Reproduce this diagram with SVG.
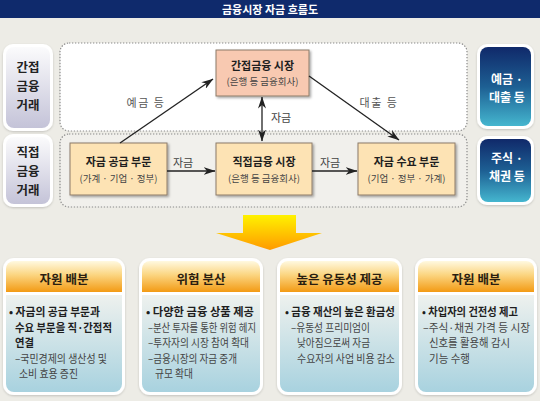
<svg xmlns="http://www.w3.org/2000/svg" width="540" height="401" viewBox="0 0 540 401">
<defs>
<style>
text{font-family:"Noto Sans CJK KR","Noto Sans",sans-serif;}
.title{font-size:11px;font-weight:700;fill:#fff;text-anchor:middle;}
.side{font-size:12.5px;font-weight:700;fill:#222;text-anchor:middle;}
.sideW{font-size:12px;font-weight:700;fill:#fff;text-anchor:middle;}
.nt{font-size:11px;font-weight:700;fill:#1e1e1e;text-anchor:middle;}
.ns{font-size:9.5px;fill:#444;text-anchor:middle;}
.lbl{font-size:11px;fill:#555;text-anchor:middle;letter-spacing:1.5px;}
.lbl2{font-size:11px;fill:#444;text-anchor:middle;}
.ht{font-size:12.5px;font-weight:700;fill:#2a1e10;text-anchor:middle;}
.b{font-size:11px;font-weight:700;fill:#1e1e1e;}
.r{font-size:11px;fill:#444;}
.node{stroke:#8c7b68;stroke-width:1;}
.area{fill:#fff;stroke:#8a8a8a;stroke-width:1.2;stroke-dasharray:1.3 1.7;}
.conn{stroke:#222;stroke-width:1.3;fill:none;}
</style>
<marker id="ah" viewBox="0 0 12 8" refX="11.5" refY="4" markerWidth="12" markerHeight="8" markerUnits="userSpaceOnUse" orient="auto-start-reverse">
<path d="M0,0 L12,4 L0,8 L3.5,4 z" fill="#222"/>
</marker>
<linearGradient id="gLeft" x1="0" y1="0" x2="0" y2="1"><stop offset="0" stop-color="#fbfbfc"/><stop offset="1" stop-color="#c4c3d8"/></linearGradient>
<linearGradient id="gRight" x1="0" y1="0" x2="0" y2="1"><stop offset="0" stop-color="#10296a"/><stop offset="0.5" stop-color="#1d5f93"/><stop offset="1" stop-color="#45b6cf"/></linearGradient>
<linearGradient id="gYel" x1="0" y1="0" x2="0" y2="1"><stop offset="0" stop-color="#fff200"/><stop offset="1" stop-color="#ff9a00"/></linearGradient>
<linearGradient id="gHead" x1="0" y1="0" x2="0" y2="1"><stop offset="0" stop-color="#fff9e0"/><stop offset="0.45" stop-color="#fbd580"/><stop offset="1" stop-color="#f39a14"/></linearGradient>
<linearGradient id="gBody" x1="0" y1="0" x2="0" y2="1"><stop offset="0" stop-color="#eef1ee"/><stop offset="1" stop-color="#a8d2df"/></linearGradient>
<filter id="sh" x="-10%" y="-10%" width="130%" height="130%"><feDropShadow dx="1.5" dy="1.5" stdDeviation="0.8" flood-color="#000" flood-opacity="0.35"/></filter>
<filter id="sh2" x="-10%" y="-10%" width="130%" height="130%"><feDropShadow dx="0" dy="1" stdDeviation="1.2" flood-color="#000" flood-opacity="0.18"/></filter>
</defs>

<rect x="0" y="0" width="540" height="401" fill="#edece6"/>
<g id="titlebar">
<rect x="0" y="0" width="540" height="18" fill="#0f2a6c"/>
<text class="title" x="270" y="13.5">금융시장 자금 흐름도</text>
</g>

<g id="areas">
<rect class="area" x="60" y="43" width="407" height="88" rx="9"/>
<rect class="area" x="60" y="134" width="407" height="73" rx="9" style="fill:#f1f0ec"/>
</g>

<g id="side-indirect">
<rect x="3" y="44" width="50" height="87" rx="10" fill="#fff" filter="url(#sh2)"/>
<rect x="6" y="47" width="44" height="81" rx="8" fill="url(#gLeft)"/>
<text class="side" x="28" y="71.5">간접</text>
<text class="side" x="28" y="90.5">금융</text>
<text class="side" x="28" y="109.5">거래</text>
</g>
<g id="side-direct">
<rect x="3" y="134" width="50" height="73" rx="10" fill="#fff" filter="url(#sh2)"/>
<rect x="6" y="137" width="44" height="67" rx="8" fill="url(#gLeft)"/>
<text class="side" x="28" y="156.5">직접</text>
<text class="side" x="28" y="175.5">금융</text>
<text class="side" x="28" y="194.5">거래</text>
</g>

<g id="side-deposit">
<rect x="477" y="44" width="57" height="85" rx="10" fill="#fff" filter="url(#sh2)"/>
<rect x="480" y="47" width="51" height="79" rx="8" fill="url(#gRight)"/>
<text class="sideW" x="507" y="84">예금 ·</text>
<text class="sideW" x="507" y="102">대출 등</text>
</g>
<g id="side-stock">
<rect x="477" y="136" width="57" height="69" rx="10" fill="#fff" filter="url(#sh2)"/>
<rect x="480" y="139" width="51" height="63" rx="8" fill="url(#gRight)"/>
<text class="sideW" x="507" y="163">주식 ·</text>
<text class="sideW" x="507" y="181">채권 등</text>
</g>

<g id="n-indirect">
<rect class="node" x="216" y="50" width="93" height="46" fill="#f8c9b1" filter="url(#sh)"/>
<text class="nt" x="262.5" y="70">간접금융 시장</text>
<text class="ns" x="262.5" y="85">(은행 등 금융회사)</text>
</g>
<g id="n-supply">
<rect class="node" x="70" y="143" width="97" height="52" fill="#fde3b4" filter="url(#sh)"/>
<text class="nt" x="118.5" y="166">자금 공급 부문</text>
<text class="ns" x="118.5" y="182">(가계 · 기업 · 정부)</text>
</g>
<g id="n-direct">
<rect class="node" x="216" y="143" width="96" height="52" fill="#fde3b4" filter="url(#sh)"/>
<text class="nt" x="264" y="166">직접금융 시장</text>
<text class="ns" x="264" y="182">(은행 등 금융회사)</text>
</g>
<g id="n-demand">
<rect class="node" x="358" y="143" width="97" height="52" fill="#fde3b4" filter="url(#sh)"/>
<text class="nt" x="406.5" y="166">자금 수요 부문</text>
<text class="ns" x="406.5" y="182">(기업 · 정부 · 가계)</text>
</g>

<g id="connectors">
<line class="conn" x1="120" y1="143" x2="213" y2="79" marker-end="url(#ah)"/>
<line class="conn" x1="309" y1="76" x2="399" y2="140" marker-end="url(#ah)"/>
<line class="conn" x1="262" y1="97" x2="262" y2="141" marker-start="url(#ah)" marker-end="url(#ah)"/>
<line class="conn" x1="167" y1="171" x2="215" y2="171" marker-end="url(#ah)"/>
<line class="conn" x1="312" y1="171" x2="357" y2="171" marker-end="url(#ah)"/>
<text class="lbl" x="146" y="107">예금 등</text>
<text class="lbl" x="379" y="107">대출 등</text>
<text class="lbl2" x="281" y="121.5">자금</text>
<text class="lbl2" x="183" y="167">자금</text>
<text class="lbl2" x="330" y="167">자금</text>
</g>

<g id="big-arrow">
<polygon points="243,215 296,215 296,233 322,233 270,250 216,233 243,233" fill="url(#gYel)"/>
</g>

<g id="card1">
<rect x="3" y="258" width="122" height="137" rx="11" fill="#fff" filter="url(#sh2)"/>
<path d="M6,292 V269 A8,8 0 0 1 14,261 H114 A8,8 0 0 1 122,269 V292 Z" fill="url(#gHead)"/>
<path d="M6,295 H122 V384 A8,8 0 0 1 114,392 H14 A8,8 0 0 1 6,384 Z" fill="url(#gBody)"/>
<text class="ht" x="64" y="284">자원 배분</text>
<text class="b" x="9" y="316" textLength="91" lengthAdjust="spacingAndGlyphs">• 자금의 공급 부문과</text>
<text class="b" x="15" y="331.5" textLength="97" lengthAdjust="spacingAndGlyphs">수요 부문을 직·간접적</text>
<text class="b" x="15" y="347" textLength="19" lengthAdjust="spacingAndGlyphs">연결</text>
<text class="r" x="15" y="362.5" textLength="92" lengthAdjust="spacingAndGlyphs">–국민경제의 생산성 및</text>
<text class="r" x="19" y="378" textLength="59" lengthAdjust="spacingAndGlyphs">소비 효용 증진</text>
</g>

<g id="card2">
<rect x="139" y="258" width="124" height="137" rx="11" fill="#fff" filter="url(#sh2)"/>
<path d="M142,292 V269 A8,8 0 0 1 150,261 H252 A8,8 0 0 1 260,269 V292 Z" fill="url(#gHead)"/>
<path d="M142,295 H260 V384 A8,8 0 0 1 252,392 H150 A8,8 0 0 1 142,384 Z" fill="url(#gBody)"/>
<text class="ht" x="201" y="284">위험 분산</text>
<text class="b" x="146" y="316" textLength="108" lengthAdjust="spacingAndGlyphs">• 다양한 금융 상품 제공</text>
<text class="r" x="148" y="331.5" textLength="108" lengthAdjust="spacingAndGlyphs">–분산 투자를 통한 위험 헤지</text>
<text class="r" x="148" y="347" textLength="101" lengthAdjust="spacingAndGlyphs">–투자자의 시장 참여 확대</text>
<text class="r" x="148" y="362.5" textLength="89" lengthAdjust="spacingAndGlyphs">–금융시장의 자금 중개</text>
<text class="r" x="155" y="378" textLength="38" lengthAdjust="spacingAndGlyphs">규모 확대</text>
</g>

<g id="card3">
<rect x="277" y="258" width="125" height="137" rx="11" fill="#fff" filter="url(#sh2)"/>
<path d="M280,292 V269 A8,8 0 0 1 288,261 H391 A8,8 0 0 1 399,269 V292 Z" fill="url(#gHead)"/>
<path d="M280,295 H399 V384 A8,8 0 0 1 391,392 H288 A8,8 0 0 1 280,384 Z" fill="url(#gBody)"/>
<text class="ht" x="339.5" y="284">높은 유동성 제공</text>
<text class="b" x="285" y="316" textLength="110" lengthAdjust="spacingAndGlyphs">• 금융 재산의 높은 환금성</text>
<text class="r" x="291" y="331.5" textLength="79" lengthAdjust="spacingAndGlyphs">–유동성 프리미엄이</text>
<text class="r" x="297" y="347" textLength="73" lengthAdjust="spacingAndGlyphs">낮아짐으로써 자금</text>
<text class="r" x="297" y="362.5" textLength="98" lengthAdjust="spacingAndGlyphs">수요자의 사업 비용 감소</text>
</g>

<g id="card4">
<rect x="415" y="258" width="122" height="137" rx="11" fill="#fff" filter="url(#sh2)"/>
<path d="M418,292 V269 A8,8 0 0 1 426,261 H526 A8,8 0 0 1 534,269 V292 Z" fill="url(#gHead)"/>
<path d="M418,295 H534 V384 A8,8 0 0 1 526,392 H426 A8,8 0 0 1 418,384 Z" fill="url(#gBody)"/>
<text class="ht" x="476" y="284">자원 배분</text>
<text class="b" x="422" y="316" textLength="96" lengthAdjust="spacingAndGlyphs">• 차입자의 건전성 제고</text>
<text class="r" x="423" y="331.5" textLength="107" lengthAdjust="spacingAndGlyphs">–주식·채권 가격 등 시장</text>
<text class="r" x="429" y="347" textLength="81" lengthAdjust="spacingAndGlyphs">신호를 활용해 감시</text>
<text class="r" x="429" y="362.5" textLength="41" lengthAdjust="spacingAndGlyphs">기능 수행</text>
</g>
</svg>
